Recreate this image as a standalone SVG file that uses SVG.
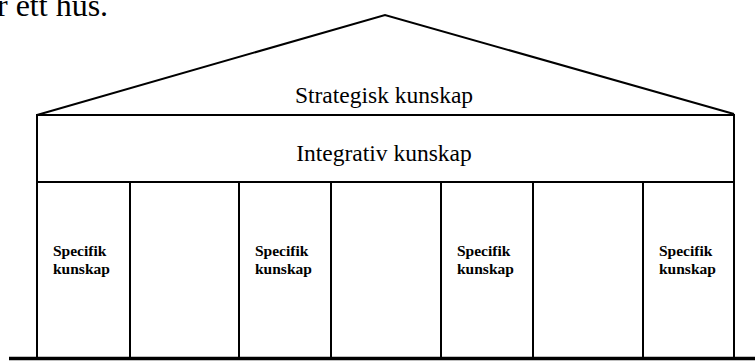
<svg xmlns="http://www.w3.org/2000/svg" width="755" height="361" viewBox="0 0 755 361">
<style>
.ln{stroke:#000;stroke-width:2;fill:none}
.big{font-family:"Liberation Serif","Times New Roman",serif;font-size:23.5px;fill:#000;text-anchor:middle}
.sp{font-family:"Liberation Serif","Times New Roman",serif;font-size:15.5px;font-weight:bold;fill:#000}
</style>
<rect width="755" height="361" fill="#fff"/>
<text x="-3" y="16" font-family="'Liberation Serif','Times New Roman',serif" font-size="32" fill="#000">r ett hus.</text>
<g id="roof">
<polyline class="ln" points="37,115 385,15 734,114"/>
<text class="big" x="384" y="103">Strategisk kunskap</text>
</g>
<g id="integrativ">
<rect class="ln" x="37" y="115" width="697" height="67"/>
<text class="big" x="384" y="161">Integrativ kunskap</text>
</g>
<g id="columns">
<line class="ln" x1="37" y1="182" x2="37" y2="357"/>
<line class="ln" x1="130" y1="182" x2="130" y2="357"/>
<line class="ln" x1="239" y1="182" x2="239" y2="357"/>
<line class="ln" x1="331" y1="182" x2="331" y2="357"/>
<line class="ln" x1="441" y1="182" x2="441" y2="357"/>
<line class="ln" x1="533" y1="182" x2="533" y2="357"/>
<line class="ln" x1="643" y1="182" x2="643" y2="357"/>
<line class="ln" x1="734" y1="182" x2="734" y2="357"/>
</g>
<g id="specifik1"><text class="sp" x="53" y="256">Specifik</text><text class="sp" x="53" y="274">kunskap</text></g>
<g id="specifik2"><text class="sp" x="255" y="256">Specifik</text><text class="sp" x="255" y="274">kunskap</text></g>
<g id="specifik3"><text class="sp" x="457" y="256">Specifik</text><text class="sp" x="457" y="274">kunskap</text></g>
<g id="specifik4"><text class="sp" x="659" y="256">Specifik</text><text class="sp" x="659" y="274">kunskap</text></g>
<g id="ground">
<line x1="9" y1="358.5" x2="755" y2="358.5" stroke="#000" stroke-width="3.5"/>
</g>
</svg>
